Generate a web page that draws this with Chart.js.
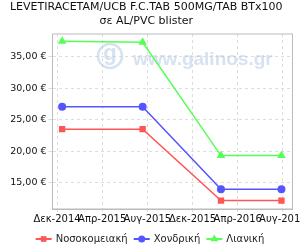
<!DOCTYPE html>
<html>
<head>
<meta charset="utf-8">
<script src="https://cdn.jsdelivr.net/npm/chart.js@4/dist/chart.umd.min.js"></script>
<style>
  html, body { margin: 0; padding: 0; background: #fff; }
  #chart { display: block; }
</style>
</head>
<body>
<canvas id="chart" width="300" height="250"></canvas>
<script>
"use strict";

// price dates and values (€)
const dates = ["2014-12-15", "2015-07-19", "2016-02-16", "2016-07-28"];
const nosokomeiaki = [23.48, 23.48, 12.14, 12.14];
const xondriki = [27.06, 27.06, 13.95, 13.95];
const lianiki = [37.44, 37.29, 19.29, 19.29];

const xTickLabels = ["Δεκ-2014", "Απρ-2015", "Αυγ-2015", "Δεκ-2015", "Απρ-2016", "Αυγ-2016"];
const xTickValues = [0, 4, 8, 12, 16, 20];
const yTickValues = [15, 20, 25, 30, 35];

const titleLines = ["LEVETIRACETAM/UCB F.C.TAB 500MG/TAB BTx100", "σε AL/PVC blister"];
const seriesNames = ["Νοσοκομειακή", "Χονδρική", "Λιανική"];
const FONT = "'DejaVu Sans', sans-serif";

// months since 1 Dec 2014
function monthsFrom(d) {
  const t = new Date(d + "T00:00:00Z");
  const y = t.getUTCFullYear(), m = t.getUTCMonth();
  const days = new Date(Date.UTC(y, m + 1, 0)).getUTCDate();
  return (y - 2014) * 12 + (m - 11) + (t.getUTCDate() - 1) / days;
}

function points(values) {
  return values.map((v, i) => ({ x: monthsFrom(dates[i]), y: v }));
}

const series = [
  { label: seriesNames[0], data: points(nosokomeiaki), color: "#ff5555", style: "rect", radius: 4.5 },
  { label: seriesNames[1], data: points(xondriki), color: "#5555ff", style: "circle", radius: 4 },
  { label: seriesNames[2], data: points(lianiki), color: "#55ff55", style: "triangle", radius: 5 },
];

const watermark = {
  id: "watermark",
  beforeDatasetsDraw(chart) {
    const ctx = chart.ctx;
    ctx.save();
    ctx.strokeStyle = "rgba(175,198,228,0.5)";
    ctx.fillStyle = "rgba(175,198,228,0.5)";
    ctx.lineWidth = 2.5;
    ctx.beginPath();
    ctx.arc(110, 56, 12, 0, Math.PI * 2);
    ctx.stroke();
    ctx.font = "bold 22px 'Liberation Sans', sans-serif";
    ctx.textAlign = "center";
    ctx.fillText("g", 110, 60);
    ctx.textAlign = "left";
    ctx.font = "bold 19px 'Liberation Sans', sans-serif";
    ctx.fillText("www.galinos.gr", 133, 65);
    ctx.restore();
  },
};

const frame = {
  id: "frame",
  afterDatasetsDraw(chart) {
    const a = chart.chartArea, ctx = chart.ctx;
    ctx.save();
    ctx.strokeStyle = "#bbbbbb";
    ctx.lineWidth = 1;
    ctx.strokeRect(a.left, a.top, a.right - a.left, a.bottom - a.top);
    ctx.restore();
  },
};

const customLegend = {
  id: "customLegend",
  afterDraw(chart) {
    const ctx = chart.ctx;
    ctx.save();
    ctx.font = "10px " + FONT;
    ctx.textBaseline = "middle";
    const lineLen = 16, gap = 4, itemGap = 6;
    const widths = series.map(s => lineLen + gap + ctx.measureText(s.label).width);
    const total = widths.reduce((a, b) => a + b, 0) + itemGap * (series.length - 1);
    let x = (chart.width - total) / 2;
    const y = 239;
    series.forEach((s, i) => {
      ctx.strokeStyle = s.color;
      ctx.lineWidth = 2;
      ctx.beginPath();
      ctx.moveTo(x, y);
      ctx.lineTo(x + lineLen, y);
      ctx.stroke();
      ctx.fillStyle = s.color;
      Chart.helpers.drawPoint(ctx, { pointStyle: s.style, radius: s.radius - 0.5, borderWidth: 0 }, x + lineLen / 2, y);
      ctx.fillStyle = "#222";
      ctx.fillText(s.label, x + lineLen + gap, y);
      x += widths[i] + itemGap;
    });
    ctx.restore();
  },
};

const ctx = document.getElementById("chart").getContext("2d");
const myChart = new Chart(ctx, {
  type: "line",
  data: {
    datasets: series.map(s => ({
      label: s.label,
      data: s.data,
      borderColor: s.color,
      backgroundColor: s.color,
      borderWidth: 1.5,
      pointStyle: s.style,
      pointRadius: s.radius,
      pointBorderWidth: 0,
      fill: false,
      tension: 0,
    })),
  },
  options: {
    responsive: false,
    animation: false,
    layout: { padding: { left: 0, right: 7.5, top: 0, bottom: 22 } },
    plugins: {
      legend: { display: false },
      tooltip: { enabled: false },
      title: {
        display: true,
        text: titleLines,
        color: "#111",
        font: { family: FONT, size: 11, weight: "normal", lineHeight: 1.3 },
        padding: { top: 0, bottom: 5.4 },
      },
    },
    scales: {
      x: {
        type: "linear",
        min: -0.4,
        max: 20.85,
        afterBuildTicks: scale => { scale.ticks = xTickValues.map(v => ({ value: v })); },
        afterFit: scale => { scale.height = 19; scale.paddingLeft = 0; scale.paddingRight = 0; },
        grid: { color: "#dddddd", drawTicks: true, tickLength: 3 },
        border: { color: "#bbbbbb", dash: [3, 3] },
        ticks: {
          autoSkip: false,
          maxRotation: 0,
          padding: 1,
          color: "#111",
          font: { family: FONT, size: 10 },
          callback: (v) => xTickLabels[xTickValues.indexOf(v)],
        },
      },
      y: {
        min: 10.8,
        max: 38.6,
        afterBuildTicks: scale => { scale.ticks = yTickValues.map(v => ({ value: v })); },
        afterFit: scale => { scale.width = 52.5; scale.paddingTop = 0; scale.paddingBottom = 0; },
        grid: { color: "#dddddd", drawTicks: true, tickLength: 4 },
        border: { color: "#bbbbbb", dash: [3, 3] },
        ticks: {
          padding: 2,
          color: "#111",
          font: { family: FONT, size: 9.5 },
          callback: (v) => v.toFixed(2).replace(".", ",") + " €",
        },
      },
    },
  },
  plugins: [watermark, frame, customLegend],
});
</script>
</body>
</html>
